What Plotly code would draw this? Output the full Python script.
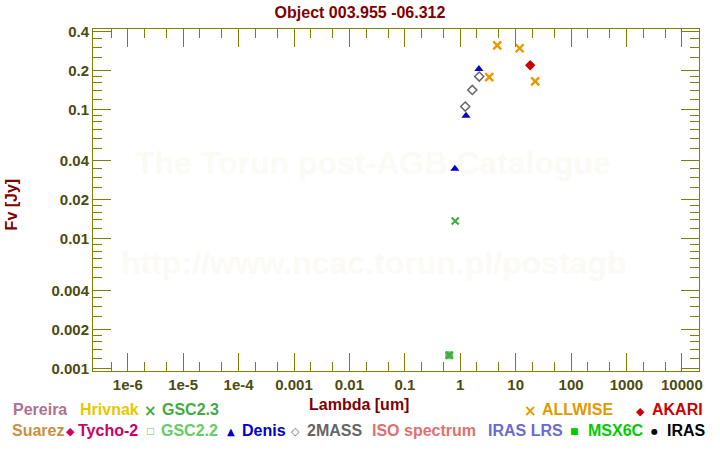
import plotly.graph_objects as go
import numpy as np

# ---------------- data ----------------
allwise_wl = [3.33, 4.65, 11.8, 22.5]
allwise_f = [0.177, 0.312, 0.296, 0.164]
akari_wl = [18.3]
akari_f = [0.219]
denis_wl = [0.80, 1.27, 2.17]
denis_f = [0.0348, 0.0893, 0.205]
twomass_wl = [1.23, 1.65, 2.20]
twomass_f = [0.105, 0.141, 0.179]
gsc23_wl = [0.634, 0.81]
gsc23_f = [0.00126, 0.0137]
gsc22_wl = [0.634]
gsc22_f = [0.00126]

x_tickvals = [1e-6, 1e-5, 1e-4, 1e-3, 1e-2, 1e-1, 1, 10, 100, 1000, 10000]
x_ticktext = ["1e-6", "1e-5", "1e-4", "0.001", "0.01", "0.1", "1", "10", "100", "1000", "10000"]
y_tickvals = [0.001, 0.002, 0.004, 0.01, 0.02, 0.04, 0.1, 0.2, 0.4]
y_ticktext = ["0.001", "0.002", "0.004", "0.01", "0.02", "0.04", "0.1", "0.2", "0.4"]

title_text = "Object 003.955 -06.312"

# ---------------- style ----------------
FONT = "Liberation Sans, Arial, sans-serif"
OLIVE = "#808000"
LABEL = "#4b4b12"
DARKRED = "#800000"

x_minor = [m * 10.0 ** k for k in range(-7, 5) for m in (2, 5)]
y_minor = [m * 10.0 ** k for k in range(-3, 0)
           for m in (1.2, 1.4, 1.6, 1.8, 2.5, 3, 3.5, 5, 6, 7, 8, 9)]

fig = go.Figure()

fig.add_trace(go.Scatter(x=gsc22_wl, y=gsc22_f, mode="markers",
                         marker=dict(symbol="square", size=7, color="#55bb55",
                                     line=dict(color="#66cc66", width=1))))
fig.add_trace(go.Scatter(x=gsc23_wl, y=gsc23_f, mode="markers",
                         marker=dict(symbol="x-thin-open", size=7, color="#44aa44",
                                     line=dict(color="#44aa44", width=2.2))))
fig.add_trace(go.Scatter(x=twomass_wl, y=twomass_f, mode="markers",
                         marker=dict(symbol="diamond-open", size=7, color="#666666",
                                     line=dict(color="#666666", width=1.5))))
fig.add_trace(go.Scatter(x=denis_wl, y=denis_f, mode="markers",
                         marker=dict(symbol="triangle-up", size=8, color="#0000cc",
                                     line=dict(width=0))))
fig.add_trace(go.Scatter(x=allwise_wl, y=allwise_f, mode="markers",
                         marker=dict(symbol="x-thin-open", size=8, color="#e69a00",
                                     line=dict(color="#e69a00", width=2.4))))
fig.add_trace(go.Scatter(x=akari_wl, y=akari_f, mode="markers",
                         marker=dict(symbol="diamond", size=8, color="#cc0000",
                                     line=dict(width=0))))

L, R, T, B = 92.7, 699.3, 29.0, 371.0


def px2x(px):
    return (px - L) / (R - L)


def py2y(py):
    return (B - py) / (B - T)


axis_common = dict(type="log", showgrid=False, zeroline=False, showline=True,
                   linecolor=OLIVE, linewidth=1, mirror="allticks",
                   ticks="inside", ticklen=18, tickwidth=1, tickcolor=OLIVE,
                   tickfont=dict(family=FONT, size=15, color=LABEL, weight="bold"),
                   tickmode="array")

fig.update_xaxes(**axis_common, range=[-6.628, 4.309],
                 tickvals=x_tickvals, ticktext=x_ticktext,
                 minor=dict(tickmode="array", tickvals=x_minor, ticks="inside",
                            ticklen=9, tickwidth=1, tickcolor=OLIVE, showgrid=False))
fig.update_yaxes(**axis_common, range=[-3.021, -0.380],
                 tickvals=y_tickvals, ticktext=y_ticktext,
                 minor=dict(tickmode="array", tickvals=y_minor, ticks="inside",
                            ticklen=9, tickwidth=1, tickcolor=OLIVE, showgrid=False))

ann = []
# watermark
for txt, py in [("The Torun post-AGB Catalogue", 163), ("http://www.ncac.torun.pl/postagb", 263)]:
    ann.append(dict(text=txt, x=px2x(373), y=py2y(py), xref="paper", yref="paper",
                    showarrow=False, xanchor="center", yanchor="middle",
                    font=dict(family=FONT, size=32, color="#fcfaf5", weight="bold")))
# axis titles
ann.append(dict(text="Lambda [um]", x=px2x(359), y=py2y(404), xref="paper", yref="paper",
                showarrow=False, xanchor="center", yanchor="middle",
                font=dict(family=FONT, size=16, color=DARKRED, weight="bold")))
ann.append(dict(text="Fv [Jy]", x=px2x(11), y=py2y(204), xref="paper", yref="paper",
                showarrow=False, xanchor="center", yanchor="middle", textangle=-90,
                font=dict(family=FONT, size=16, color=DARKRED, weight="bold")))

# legend: (symbol, symbol_px, symbol_size, text, text_left_px, row_py, color)
legend_items = [
    ("", 0, 0, "Pereira", 11, 410, "#b07090"),
    ("", 0, 0, "Hrivnak", 78, 410, "#e6c800"),
    ("×", 150.5, 15, "GSC2.3", 160, 410, "#44aa44"),
    ("×", 530.5, 15, "ALLWISE", 540, 410, "#e09a00"),
    ("◆", 641, 11, "AKARI", 650, 410, "#cc0000"),
    ("", 0, 0, "Suarez", 10, 430, "#c89040"),
    ("◆", 70.5, 11, "Tycho-2", 76, 430, "#cc0066"),
    ("□", 150.5, 9, "GSC2.2", 159, 430, "#66cc66"),
    ("▲", 231, 10, "Denis", 240, 430, "#0000cc"),
    ("◇", 295.5, 11, "2MASS", 305, 430, "#666666"),
    ("", 0, 0, "ISO spectrum", 370, 430, "#e07070"),
    ("", 0, 0, "IRAS LRS", 486, 430, "#6a6ad0"),
    ("■", 575, 9, "MSX6C", 586, 430, "#00cc00"),
    ("●", 655, 8, "IRAS", 665, 430, "#000000"),
]
for sym, spx, ssz, txt, tpx, rpy, col in legend_items:
    if sym:
        ann.append(dict(text=sym, x=px2x(spx), y=py2y(rpy + 1), xref="paper", yref="paper",
                        showarrow=False, xanchor="center", yanchor="middle",
                        font=dict(family="DejaVu Sans", size=ssz, color=col, weight="bold")))
    ann.append(dict(text=txt, x=px2x(tpx), y=py2y(rpy), xref="paper", yref="paper",
                    showarrow=False, xanchor="left", yanchor="middle",
                    font=dict(family=FONT, size=16, color=col, weight="bold")))

fig.update_layout(
    width=720, height=450, autosize=False,
    margin=dict(l=L, r=720 - R, t=T, b=450 - B, pad=0),
    paper_bgcolor="white", plot_bgcolor="white",
    showlegend=False,
    title=dict(text=title_text, x=0.5, xref="container", xanchor="center",
               y=1 - 12 / 450, yref="container", yanchor="middle",
               font=dict(family=FONT, size=16, color=DARKRED, weight="bold")),
    annotations=ann,
)

fig.write_html("out.html")
